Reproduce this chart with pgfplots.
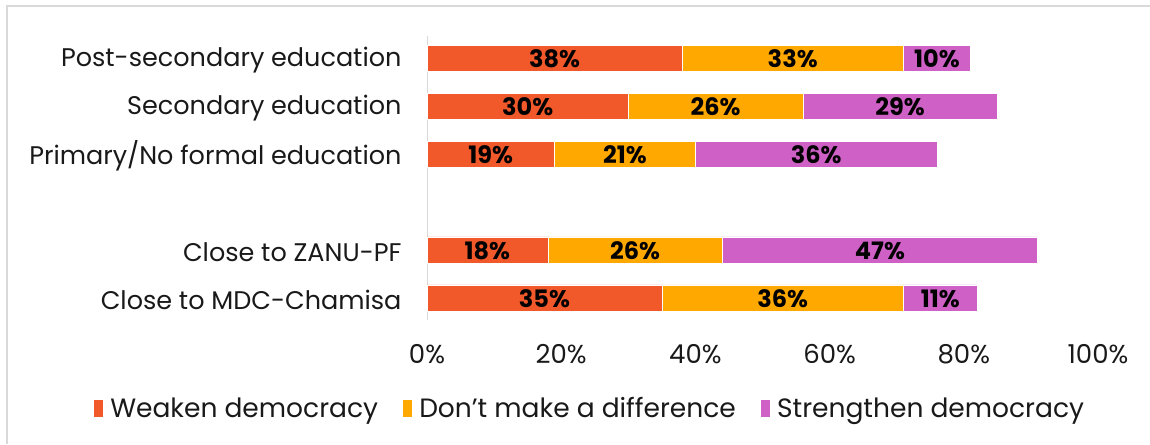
\documentclass[border=0pt]{standalone}
\usepackage{pgfplots}
\pgfplotsset{compat=1.18}
\usepackage{fontspec}
\setmainfont{Poppins}
\definecolor{weak}{RGB}{241,88,42}
\definecolor{nodiff}{RGB}{255,168,0}
\definecolor{strong}{RGB}{207,96,198}
\definecolor{framegray}{RGB}{217,217,217}
\definecolor{txt}{RGB}{25,25,25}

\begin{document}
\begin{tikzpicture}
\useasboundingbox (0,0) rectangle (1150pt,-444pt);
\draw[framegray, line width=1.5pt] (7pt,-444pt) -- (7pt,-6pt) -- (1150pt,-6pt);
\pgfplotsset{common/.style={
    scale only axis, width=671pt, height=284pt,
    at={(427pt,-320pt)}, anchor=south west,
    xmin=0, xmax=100, ymin=-0.46, ymax=5.46, y dir=reverse,
}}
\begin{axis}[
    common,
    xbar stacked,
    bar width=26pt,
    axis x line*=bottom,
    axis y line*=left,
    x axis line style={draw=none},
    y axis line style={draw=framegray, line width=1pt},
    major tick length=0pt,
    xtick={0,20,...,100},
    xticklabel={\pgfmathprintnumber{\tick}\%},
    /pgf/number format/assume math mode=true,
    ytick={0,1,2,4,5},
    yticklabels={Post-secondary education, Secondary education, Primary/No formal education, Close to ZANU-PF, Close to MDC-Chamisa},
    tick label style={text=txt},
    xticklabel style={font=\fontsize{26}{30}\selectfont, yshift=-21pt},
    yticklabel style={font=\fontsize{25.5}{30}\selectfont, xshift=-22pt, yshift=-2pt},
    legend style={at={(0.243,-0.31)}, anchor=center, legend columns=-1, draw=none,
        font=\fontsize{26.5}{30}\selectfont, text=txt,
        /tikz/every even column/.append style={column sep=23pt}},
    legend image code/.code={\fill[#1, draw=none] (0pt,-8.5pt) rectangle (9pt,8.5pt); \path (14pt,0pt);},
]
\addplot[fill=weak, draw=white] coordinates {(38,0) (30,1) (19,2) (18,4) (35,5)};
\addplot[fill=nodiff, draw=white] coordinates {(33,0) (26,1) (21,2) (26,4) (36,5)};
\addplot[fill=strong, draw=white] coordinates {(10,0) (29,1) (36,2) (47,4) (11,5)};
\legend{Weaken democracy, Don’t make a difference, Strengthen democracy}
\end{axis}
\begin{axis}[common, hide axis]
\addplot[draw=none, mark=none, nodes near coords, point meta=explicit symbolic,
    every node near coord/.append style={font=\bfseries\fontsize{24}{26}\selectfont, anchor=center, text=black, yshift=-1pt}]
    coordinates {
    (19,0)[38\%] (54.5,0)[33\%] (76,0)[10\%]
    (15,1)[30\%] (43,1)[26\%] (70.5,1)[29\%]
    (9.5,2)[19\%] (29.5,2)[21\%] (58,2)[36\%]
    (9,4)[18\%] (31,4)[26\%] (67.5,4)[47\%]
    (17.5,5)[35\%] (53,5)[36\%] (76.5,5)[11\%]
    };
\end{axis}
\end{tikzpicture}
\end{document}
